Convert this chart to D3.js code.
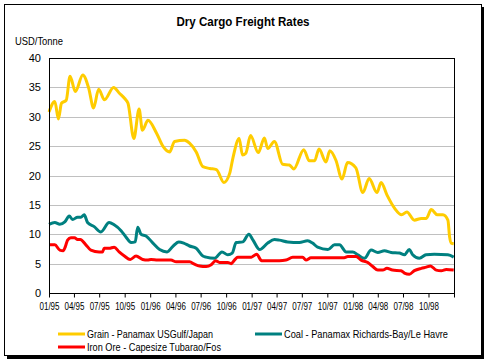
<!DOCTYPE html>
<html>
<head>
<meta charset="utf-8">
<script src="https://cdn.jsdelivr.net/npm/d3@7"></script>
<style>
  body { margin: 0; background: #fff; }
  text { font-family: "Liberation Sans", Arial, sans-serif; }
</style>
</head>
<body>
<svg id="chart"></svg>
<script>
// weekly-ish readings taken off the reference chart
const grain = [
    ["1995-01-01", 30.8], ["1995-01-22", 32.6], ["1995-02-04", 29.6], ["1995-02-15", 32.3],
    ["1995-03-04", 32.8], ["1995-03-18", 36.9], ["1995-04-06", 34.3], ["1995-05-03", 37.1],
    ["1995-05-24", 34.9], ["1995-06-11", 31.5], ["1995-06-29", 34.7], ["1995-07-20", 32.9],
    ["1995-08-22", 35.0], ["1995-09-12", 34.0], ["1995-10-01", 33.1], ["1995-10-13", 32.3],
    ["1995-11-03", 26.3], ["1995-11-22", 31.3], ["1995-12-04", 27.7], ["1995-12-24", 29.4],
    ["1996-01-24", 27.2], ["1996-02-17", 24.9], ["1996-03-11", 24.0], ["1996-03-29", 25.8],
    ["1996-05-04", 26.0], ["1996-05-22", 25.5], ["1996-06-15", 24.0], ["1996-07-09", 21.5],
    ["1996-08-03", 21.2], ["1996-08-27", 21.0], ["1996-09-23", 18.8], ["1996-10-14", 20.4],
    ["1996-10-26", 23.1], ["1996-11-17", 26.3], ["1996-11-29", 23.5], ["1996-12-11", 23.8],
    ["1996-12-28", 26.8], ["1997-01-25", 23.9], ["1997-02-16", 26.4], ["1997-02-28", 24.6],
    ["1997-03-24", 25.8], ["1997-04-23", 21.9], ["1997-05-17", 21.8], ["1997-06-02", 21.1],
    ["1997-07-08", 24.4], ["1997-07-28", 22.5], ["1997-08-16", 22.5], ["1997-09-01", 24.5],
    ["1997-09-26", 22.3], ["1997-10-10", 24.2], ["1997-11-01", 22.6], ["1997-11-23", 19.4],
    ["1997-12-13", 22.2], ["1998-01-12", 21.3], ["1998-02-06", 17.1], ["1998-03-01", 19.5],
    ["1998-03-29", 17.1], ["1998-04-13", 18.8], ["1998-05-04", 16.7], ["1998-06-01", 14.4],
    ["1998-06-26", 13.3], ["1998-07-15", 13.8], ["1998-08-11", 12.4], ["1998-09-05", 12.7],
    ["1998-09-23", 12.7], ["1998-10-11", 14.2], ["1998-11-02", 13.3], ["1998-11-22", 13.3],
    ["1998-12-10", 12.4], ["1998-12-16", 9.6], ["1998-12-22", 8.5], ["1998-12-31", 8.4]
];

const coal = [
    ["1995-01-01", 11.7], ["1995-01-22", 12.0], ["1995-02-09", 11.7], ["1995-02-27", 12.1],
    ["1995-03-15", 13.1], ["1995-03-27", 12.5], ["1995-04-14", 12.9], ["1995-04-26", 12.9],
    ["1995-05-08", 13.3], ["1995-05-20", 12.0], ["1995-06-13", 11.3], ["1995-07-07", 10.4],
    ["1995-08-06", 12.0], ["1995-08-24", 11.6], ["1995-09-18", 10.6], ["1995-10-06", 9.5],
    ["1995-10-24", 8.6], ["1995-11-08", 8.7], ["1995-11-17", 11.2], ["1995-11-29", 10.0],
    ["1995-12-17", 9.7], ["1996-01-11", 8.5], ["1996-02-04", 7.4], ["1996-03-02", 7.0],
    ["1996-03-22", 7.9], ["1996-04-13", 8.7], ["1996-05-01", 8.5], ["1996-05-22", 8.0],
    ["1996-06-15", 7.6], ["1996-07-09", 6.3], ["1996-07-21", 6.1], ["1996-08-20", 5.9],
    ["1996-09-16", 7.0], ["1996-10-07", 6.5], ["1996-10-23", 6.8], ["1996-11-06", 8.6],
    ["1996-11-30", 8.7], ["1996-12-22", 10.0], ["1997-01-06", 9.0], ["1997-01-30", 7.4],
    ["1997-02-28", 8.5], ["1997-03-24", 9.1], ["1997-04-11", 9.0], ["1997-05-11", 8.7],
    ["1997-06-22", 8.6], ["1997-07-22", 8.9], ["1997-08-09", 8.5], ["1997-08-27", 7.8],
    ["1997-10-03", 7.4], ["1997-10-27", 8.2], ["1997-11-14", 8.2], ["1997-12-08", 7.0],
    ["1998-01-01", 7.0], ["1998-01-19", 6.5], ["1998-02-12", 5.9], ["1998-03-08", 7.3],
    ["1998-04-01", 6.9], ["1998-04-25", 7.2], ["1998-05-19", 6.9], ["1998-06-18", 6.8],
    ["1998-07-06", 6.5], ["1998-07-24", 7.4], ["1998-08-05", 6.5], ["1998-08-29", 5.9],
    ["1998-09-22", 6.5], ["1998-10-22", 6.6], ["1998-12-10", 6.5], ["1998-12-31", 6.1]
];

const ironOre = [
    ["1995-01-01", 8.2], ["1995-01-22", 8.2], ["1995-02-09", 7.3], ["1995-02-21", 7.2],
    ["1995-03-01", 7.9], ["1995-03-09", 9.0], ["1995-03-21", 9.4], ["1995-04-03", 9.4],
    ["1995-04-14", 9.1], ["1995-04-24", 9.1], ["1995-05-14", 8.2], ["1995-06-01", 7.3],
    ["1995-07-01", 7.0], ["1995-07-13", 7.0], ["1995-07-19", 7.6], ["1995-08-06", 7.6],
    ["1995-08-24", 7.8], ["1995-09-11", 7.0], ["1995-09-30", 6.3], ["1995-10-21", 5.7],
    ["1995-11-11", 6.3], ["1995-12-05", 5.7], ["1995-12-23", 5.6], ["1996-01-04", 5.7],
    ["1996-01-28", 5.6], ["1996-03-16", 5.6], ["1996-04-04", 5.3], ["1996-05-22", 5.3],
    ["1996-06-09", 4.9], ["1996-06-27", 4.6], ["1996-07-21", 4.5], ["1996-08-08", 4.8],
    ["1996-08-24", 5.5], ["1996-09-07", 5.2], ["1996-10-07", 5.2], ["1996-10-19", 5.0],
    ["1996-10-31", 5.6], ["1996-11-12", 6.1], ["1996-12-31", 6.1], ["1997-01-19", 6.6],
    ["1997-02-06", 5.5], ["1997-04-11", 5.5], ["1997-05-05", 5.6], ["1997-05-29", 6.1],
    ["1997-07-04", 6.1], ["1997-07-16", 5.6], ["1997-08-03", 6.0], ["1997-12-01", 6.0],
    ["1997-12-14", 6.2], ["1998-01-13", 6.2], ["1998-01-31", 5.6], ["1998-02-24", 5.2],
    ["1998-03-14", 4.5], ["1998-04-01", 3.9], ["1998-04-19", 3.9], ["1998-05-04", 4.2],
    ["1998-05-24", 3.9], ["1998-06-24", 3.8], ["1998-07-06", 3.4], ["1998-07-24", 3.2],
    ["1998-08-11", 3.8], ["1998-09-05", 4.2], ["1998-09-23", 4.4], ["1998-10-08", 4.6],
    ["1998-10-29", 3.9], ["1998-11-16", 3.8], ["1998-12-04", 4.0], ["1998-12-31", 3.9]
];

const seriesNames = [
    "Grain - Panamax USGulf/Japan",
    "Coal - Panamax Richards-Bay/Le Havre",
    "Iron Ore - Capesize Tubarao/Fos"
];
const seriesColors = ["#ffcc00", "#008080", "#ff0000"];
const xTickLabels = ["01/95", "04/95", "07/95", "10/95", "01/96", "04/96", "07/96", "10/96",
    "01/97", "04/97", "07/97", "10/97", "01/98", "04/98", "07/98", "10/98"];
const yTicks = [0, 5, 10, 15, 20, 25, 30, 35, 40];

const W = 488, H = 363;
const margin = { top: 58, right: 34, bottom: 70, left: 49 };
const width = W - margin.left - margin.right;
const height = H - margin.top - margin.bottom;

const parse = d3.timeParse("%Y-%m-%d");
const parseTick = d3.timeParse("%m/%y");

// the reference uses a narrow bitmap font; squeeze text to its widths
function squeeze(sel, w) {
    sel.attr("textLength", w).attr("lengthAdjust", "spacingAndGlyphs");
}

const svg = d3.select("#chart")
    .attr("width", W)
    .attr("height", H);

// frame with drop shadow
svg.append("rect")
    .attr("x", 7).attr("y", 7)
    .attr("width", 477).attr("height", 352)
    .attr("fill", "#000");
svg.append("rect")
    .attr("x", 4.5).attr("y", 4.5)
    .attr("width", 477).attr("height", 351)
    .attr("fill", "#fff")
    .attr("stroke", "#000");

svg.append("text")
    .attr("x", 243).attr("y", 26)
    .attr("text-anchor", "middle")
    .style("font-size", "12.5px")
    .style("font-weight", "bold")
    .text("Dry Cargo Freight Rates")
    .call(squeeze, 133);

svg.append("text")
    .attr("x", 15).attr("y", 45)
    .style("font-size", "11px")
    .text("USD/Tonne")
    .call(squeeze, 48);

const g = svg.append("g")
    .attr("transform", "translate(" + margin.left + "," + margin.top + ")");

const x = d3.scaleTime()
    .domain([parse("1995-01-01"), parse("1999-01-01")])
    .range([0, width]);

const y = d3.scaleLinear()
    .domain([0, 40])
    .range([height, 0]);

// gridlines
g.selectAll(".grid")
    .data(yTicks.filter(d => d > 0 && d < 40))
    .enter().append("line")
    .attr("x1", 0).attr("x2", width)
    .attr("y1", d => Math.round(y(d)) + 0.5)
    .attr("y2", d => Math.round(y(d)) + 0.5)
    .attr("stroke", "#c0c0c0");

const line = d3.line()
    .x(d => x(parse(d[0])))
    .y(d => y(d[1]))
    .curve(d3.curveMonotoneX);

[grain, coal, ironOre].forEach((s, i) => {
    g.append("path")
        .datum(s)
        .attr("fill", "none")
        .attr("stroke", seriesColors[i])
        .attr("stroke-width", 3)
        .attr("stroke-linejoin", "round")
        .attr("d", line);
});

// plot border
g.append("rect")
    .attr("x", 0.5).attr("y", 0.5)
    .attr("width", width).attr("height", height)
    .attr("fill", "none")
    .attr("stroke", "#000");

const xAxis = g.append("g")
    .attr("transform", "translate(0," + (height + 0.5) + ")")
    .call(d3.axisBottom(x)
        .tickValues(xTickLabels.map(parseTick).concat([parse("1999-01-01")]))
        .tickFormat((d, i) => xTickLabels[i] || "")
        .tickSize(4)
        .tickPadding(5));
xAxis.select(".domain").remove();
xAxis.selectAll("line").attr("stroke", "#000");
xAxis.selectAll("text")
    .style("font-size", "11px")
    .style("font-family", "'Liberation Sans', Arial, sans-serif")
    .attr("fill", "#000")
    .filter(function() { return this.textContent !== ""; })
    .call(squeeze, 20);

const yAxis = g.append("g")
    .call(d3.axisLeft(y).tickValues(yTicks).tickSize(0).tickPadding(8));
yAxis.select(".domain").remove();
yAxis.selectAll("text")
    .style("font-size", "11px")
    .style("font-family", "'Liberation Sans', Arial, sans-serif")
    .attr("fill", "#000");

// legend
const legendPos = [[58, 334], [255, 334], [58, 347]];
const legendWidths = [126, 164, 134];
seriesNames.forEach((name, i) => {
    const lg = svg.append("g")
        .attr("transform", "translate(" + legendPos[i][0] + "," + legendPos[i][1] + ")");
    lg.append("line")
        .attr("x1", 0).attr("x2", 27)
        .attr("y1", 0).attr("y2", 0)
        .attr("stroke", seriesColors[i])
        .attr("stroke-width", 3);
    lg.append("text")
        .attr("x", 29).attr("y", 4)
        .style("font-size", "11px")
        .text(name)
        .call(squeeze, legendWidths[i]);
});
</script>
</body>
</html>
